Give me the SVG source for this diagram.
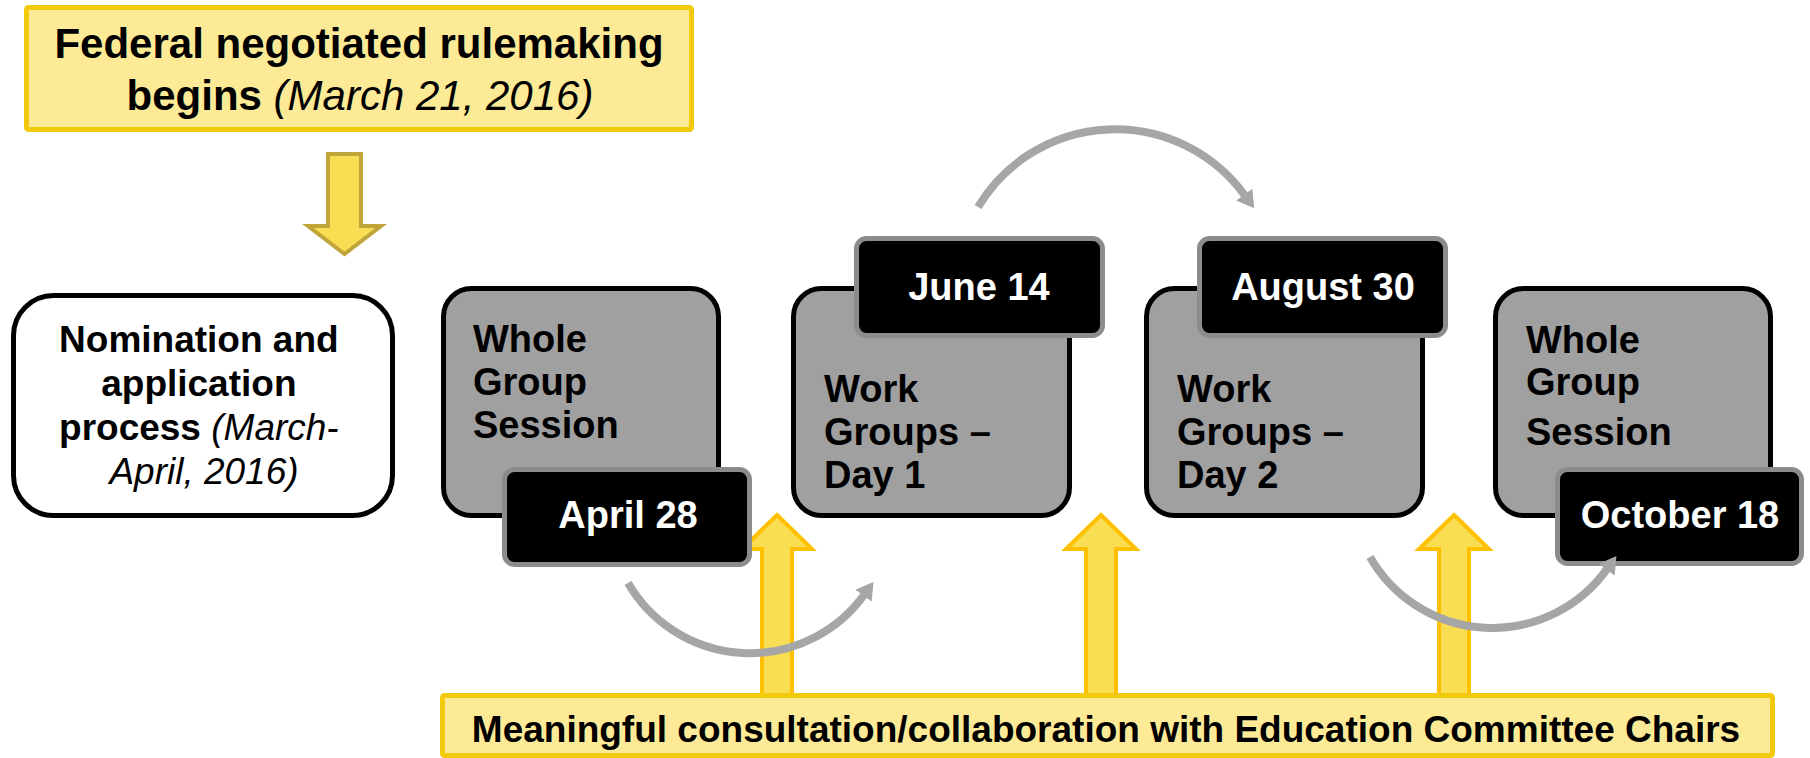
<svg xmlns="http://www.w3.org/2000/svg" width="1810" height="758" viewBox="0 0 1810 758">
<style>
.t{font-family:"Liberation Sans",Arial,sans-serif;font-weight:bold;fill:#000}
.w{fill:#fff}
.i{font-weight:normal;font-style:italic}
.ybox{fill:#FDEA96;stroke:#F3C90C;stroke-width:5}
.gbox{fill:#A0A0A0;stroke:#000;stroke-width:5}
.dbox{fill:#000;stroke:#8C8C8C;stroke-width:5}
.up{fill:#F9DD52;stroke:#FFC000;stroke-width:4}
.arc{fill:none;stroke:#A6A6A6;stroke-width:8;marker-end:url(#ah)}
</style>
<defs>
<marker id="ah" viewBox="0 0 17 20" refX="1" refY="10" markerWidth="17" markerHeight="20" markerUnits="userSpaceOnUse" orient="auto">
<path d="M0,0 L17,10 L0,20 z" fill="#A6A6A6"/>
</marker>
</defs>

<g id="federal">
<rect class="ybox" x="26.5" y="7.5" width="665" height="122" rx="2"/>
<text class="t" x="359" y="58" font-size="42" text-anchor="middle">Federal negotiated rulemaking</text>
<text class="t" x="360" y="110" font-size="42" text-anchor="middle">begins <tspan class="i">(March 21, 2016)</tspan></text>
</g>

<g id="down-arrow">
<polygon points="328,154 361,154 361,226 381,226 344.5,254 308,226 328,226" fill="#F9DD52" stroke="#BFA53A" stroke-width="4"/>
</g>

<g id="nomination">
<rect x="13.5" y="295.5" width="379" height="220" rx="40" fill="#fff" stroke="#000" stroke-width="5"/>
<text class="t" x="204" font-size="37" text-anchor="middle">
<tspan x="204" y="352">Nomination and</tspan>
<tspan x="204" y="396">application</tspan>
<tspan x="204" y="440">process <tspan class="i">(March-</tspan></tspan>
<tspan x="204" y="484" class="i">April, 2016)</tspan>
</text>
</g>

<g id="up-arrows">
<polygon class="up" points="777,515 812,549 792,549 792,700 762,700 762,549 742,549"/>
<polygon class="up" points="1101,515 1136,549 1116,549 1116,700 1086,700 1086,549 1066,549"/>
<polygon class="up" points="1454,515 1489,549 1469,549 1469,700 1439,700 1439,549 1419,549"/>
</g>

<g id="session1">
<rect class="gbox" x="443.5" y="288.5" width="275" height="227" rx="28"/>
<text class="t" font-size="38"><tspan x="473" y="352">Whole</tspan><tspan x="473" y="395">Group</tspan><tspan x="473" y="438">Session</tspan></text>
</g>
<g id="date-april">
<rect class="dbox" x="504.5" y="469.5" width="245" height="95" rx="10"/>
<text class="t w" x="628" y="528" font-size="38" text-anchor="middle">April 28</text>
</g>

<g id="workgroups1">
<rect class="gbox" x="793.5" y="288.5" width="276" height="227" rx="28"/>
<text class="t" font-size="38"><tspan x="824" y="402">Work</tspan><tspan x="824" y="445">Groups –</tspan><tspan x="824" y="488">Day 1</tspan></text>
</g>
<g id="date-june">
<rect class="dbox" x="856.5" y="238.5" width="246" height="97" rx="10"/>
<text class="t w" x="979" y="300" font-size="38" text-anchor="middle">June 14</text>
</g>

<g id="workgroups2">
<rect class="gbox" x="1146.5" y="288.5" width="276" height="227" rx="28"/>
<text class="t" font-size="38"><tspan x="1177" y="402">Work</tspan><tspan x="1177" y="445">Groups –</tspan><tspan x="1177" y="488">Day 2</tspan></text>
</g>
<g id="date-august">
<rect class="dbox" x="1199.5" y="238.5" width="246" height="97" rx="10"/>
<text class="t w" x="1323" y="300" font-size="38" text-anchor="middle">August 30</text>
</g>

<g id="session2">
<rect class="gbox" x="1495.5" y="288.5" width="275" height="227" rx="28"/>
<text class="t" font-size="38"><tspan x="1526" y="353">Whole</tspan><tspan x="1526" y="395">Group</tspan><tspan x="1526" y="445">Session</tspan></text>
</g>
<g id="date-october">
<rect class="dbox" x="1557.5" y="469.5" width="244" height="94" rx="10"/>
<text class="t w" x="1680" y="528" font-size="38" text-anchor="middle">October 18</text>
</g>

<g id="connectors">
<path class="arc" d="M628,583 A141,141 0 0 0 864.1,594.9"/>
<path class="arc" d="M978,207 A160,160 0 0 1 1244.8,195.4"/>
<path class="arc" d="M1370,557 A141,141 0 0 0 1607.1,568.9"/>
</g>

<g id="consultation">
<rect class="ybox" x="442.5" y="695.5" width="1330" height="60" rx="2"/>
<text class="t" x="1106" y="742" font-size="37" text-anchor="middle">Meaningful consultation/collaboration with Education Committee Chairs</text>
</g>
</svg>
